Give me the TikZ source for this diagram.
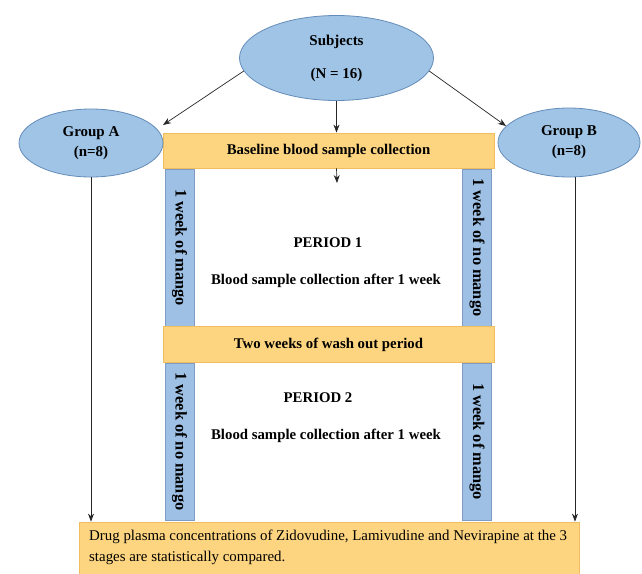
\documentclass[tikz,border=0pt]{standalone}
\usepackage{fontspec}
\setmainfont{Liberation Serif}
\usetikzlibrary{shapes.geometric,arrows.meta}
\definecolor{ellfill}{RGB}{160,196,230}
\definecolor{elldraw}{RGB}{100,140,185}
\definecolor{orfill}{RGB}{253,213,128}
\definecolor{ordraw}{RGB}{240,190,95}
\definecolor{blfill}{RGB}{157,192,228}
\definecolor{bldraw}{RGB}{125,155,195}
\tikzset{
  x=1pt,y=-1pt,
  ell/.style={ellipse,draw=elldraw,fill=ellfill,inner sep=0pt,line width=0.8pt,align=center,font=\fontsize{15}{17}\selectfont\bfseries},
  orbar/.style={rectangle,draw=ordraw,fill=orfill,line width=0.8pt,inner sep=0pt,minimum width=331pt,font=\fontsize{14.8}{17}\selectfont\bfseries},
  blbar/.style={rectangle,draw=bldraw,fill=blfill,line width=0.6pt,inner sep=0pt,rotate=-90,minimum width=157pt,minimum height=29pt,font=\fontsize{16.3}{18}\selectfont\bfseries},
  plain/.style={inner sep=0pt,font=\fontsize{14.8}{17}\selectfont\bfseries},
  arr/.style={-{Stealth[length=8pt,width=6pt]},line width=0.7pt,draw=black!85},
}
\begin{document}
\begin{tikzpicture}
\useasboundingbox (0,0) rectangle (642,573);
% bars
\node[orbar,minimum height=35pt] (base) at (328.5,150.5) {Baseline blood sample collection};
\node[blbar] (l1) at (179.5,247.5) {1 week of mango};
\node[blbar] (r1) at (477,247.5) {1 week of no mango};
\node[orbar,minimum height=36pt] (wash) at (328.5,344.5) {Two weeks of wash out period};
\node[blbar] (l2) at (179.5,441.5) {1 week of no mango};
\node[blbar] (r2) at (477,441.5) {1 week of mango};
\node[rectangle,draw=ordraw,fill=orfill,line width=0.8pt,minimum width=500pt,minimum height=54pt] (bot) at (329,549) {};
\node[anchor=north west,inner sep=0pt,align=left,font=\fontsize{14.9}{21}\selectfont] (bottxt) at (89,530) {Drug plasma concentrations of Zidovudine, Lamivudine and Nevirapine at the 3\\stages are statistically compared.};
% ellipses
\node[ell,minimum width=194pt,minimum height=85pt] (subj) at (336.5,58) {Subjects\\[16pt](N = 16)};
\node[ell,minimum width=144pt,minimum height=68pt] (gA) at (91,143) {Group A\\[3pt](n=8)};
\node[ell,minimum width=142pt,minimum height=69pt] (gB) at (569,142.5) {Group B\\[3pt](n=8)};
% period texts
\node[plain] (p1) at (328,243) {PERIOD 1};
\node[plain] (b1) at (326,281) {Blood sample collection after 1 week};
\node[plain] (p2) at (318,398) {PERIOD 2};
\node[plain] (b2) at (326,436) {Blood sample collection after 1 week};
% connectors
\coordinate (tA) at (163,125);
\coordinate (tB) at (506,126);
\coordinate (tC) at (337,183);
\draw[arr] (subj.188) -- (tA);
\draw[arr] (subj.352) -- (tB);
\draw[arr] (subj.south) -- (subj.south |- base.north);
\draw[arr] (subj.south |- base.south) -- (tC);
\draw[arr] (gA.south) -- (gA.south |- bot.north);
\draw[arr] ([xshift=6pt]gB.south) -- ([xshift=6pt]gB.south |- bot.north);
\end{tikzpicture}
\end{document}
